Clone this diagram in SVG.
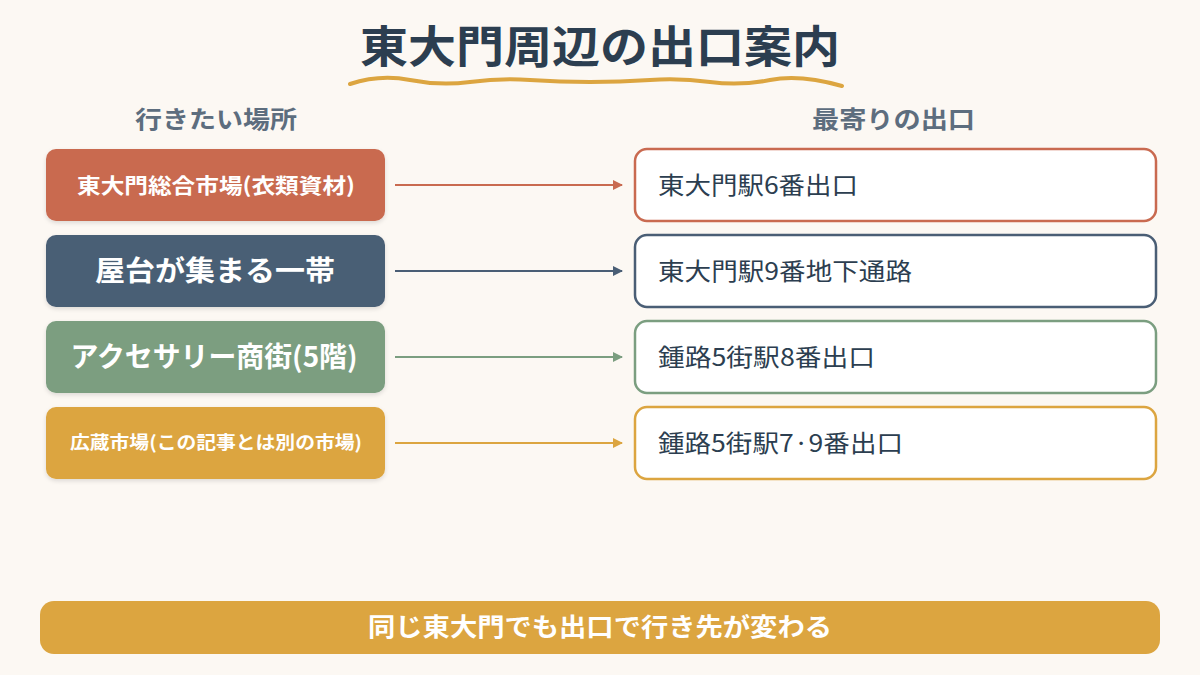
<svg xmlns="http://www.w3.org/2000/svg" width="1200" height="675" viewBox="0 0 1200 675">
<style>
text{font-family:"Noto Sans CJK JP","Noto Sans",sans-serif;}
.lt{fill:#fff;font-weight:bold;text-anchor:middle;}
.rt{fill:#2c3e50;font-size:24px;}
.hd{fill:#5d6d7e;font-size:24px;font-weight:bold;}
.rb{fill:#fff;stroke-width:2.5;}
</style>
<defs>
<filter id="sh" x="-10%" y="-10%" width="120%" height="130%"><feDropShadow dx="0" dy="2" stdDeviation="2" flood-color="#000" flood-opacity="0.12"/></filter>
<marker id="m1" viewBox="0 0 10 10" refX="9" refY="5" markerWidth="5" markerHeight="5" orient="auto"><path d="M0,0L10,5L0,10z" fill="#c96a50"/></marker>
<marker id="m2" viewBox="0 0 10 10" refX="9" refY="5" markerWidth="5" markerHeight="5" orient="auto"><path d="M0,0L10,5L0,10z" fill="#4a5e75"/></marker>
<marker id="m3" viewBox="0 0 10 10" refX="9" refY="5" markerWidth="5" markerHeight="5" orient="auto"><path d="M0,0L10,5L0,10z" fill="#7b9e80"/></marker>
<marker id="m4" viewBox="0 0 10 10" refX="9" refY="5" markerWidth="5" markerHeight="5" orient="auto"><path d="M0,0L10,5L0,10z" fill="#dca540"/></marker>
</defs>
<rect width="1200" height="675" fill="#fcf8f3"/>
<text x="600" y="63" text-anchor="middle" font-size="44" font-weight="bold" fill="#2c3e50" textLength="480" lengthAdjust="spacingAndGlyphs">東大門周辺の出口案内</text>
<path d="M350,84 Q380,74 410,80 T470,82 T530,80 T590,82 T650,80 T710,82 T770,80 T842,86" fill="none" stroke="#dca540" stroke-width="4" stroke-linecap="round"/>
<text class="hd" x="135" y="128" textLength="162" lengthAdjust="spacingAndGlyphs">行きたい場所</text>
<text class="hd" x="812" y="128" textLength="163" lengthAdjust="spacingAndGlyphs">最寄りの出口</text>
<g id="connectors">
<line x1="395" y1="185" x2="622" y2="185" stroke="#c96a50" stroke-width="2" marker-end="url(#m1)"/>
<line x1="395" y1="271" x2="622" y2="271" stroke="#4a5e75" stroke-width="2" marker-end="url(#m2)"/>
<line x1="395" y1="357" x2="622" y2="357" stroke="#7b9e80" stroke-width="2" marker-end="url(#m3)"/>
<line x1="395" y1="443" x2="622" y2="443" stroke="#dca540" stroke-width="2" marker-end="url(#m4)"/>
</g>
<g id="l1"><rect x="46" y="149" width="339" height="72" rx="10" fill="#c96a50" filter="url(#sh)"/><text class="lt" x="216" y="193" font-size="21" textLength="278" lengthAdjust="spacingAndGlyphs">東大門総合市場(衣類資材)</text></g>
<g id="l2"><rect x="46" y="235" width="339" height="72" rx="10" fill="#4a5e75" filter="url(#sh)"/><text class="lt" x="215" y="281" font-size="28" textLength="240" lengthAdjust="spacingAndGlyphs">屋台が集まる一帯</text></g>
<g id="l3"><rect x="46" y="321" width="339" height="72" rx="10" fill="#7b9e80" filter="url(#sh)"/><text class="lt" x="214" y="367" font-size="28" textLength="287" lengthAdjust="spacingAndGlyphs">アクセサリー商街(5階)</text></g>
<g id="l4"><rect x="46" y="407" width="339" height="72" rx="10" fill="#dca540" filter="url(#sh)"/><text class="lt" x="216" y="449" font-size="18" textLength="292" lengthAdjust="spacingAndGlyphs">広蔵市場(この記事とは別の市場)</text></g>
<g id="r1"><rect class="rb" x="635" y="149" width="521" height="72" rx="12" stroke="#c96a50"/><text class="rt" x="658" y="194" textLength="200" lengthAdjust="spacingAndGlyphs">東大門駅6番出口</text></g>
<g id="r2"><rect class="rb" x="635" y="235" width="521" height="72" rx="12" stroke="#4a5e75"/><text class="rt" x="658" y="280" textLength="254" lengthAdjust="spacingAndGlyphs">東大門駅9番地下通路</text></g>
<g id="r3"><rect class="rb" x="635" y="321" width="521" height="72" rx="12" stroke="#7b9e80"/><text class="rt" x="658" y="366" textLength="217" lengthAdjust="spacingAndGlyphs">鍾路5街駅8番出口</text></g>
<g id="r4"><rect class="rb" x="635" y="407" width="521" height="72" rx="12" stroke="#dca540"/><text class="rt" x="658" y="452" textLength="245" lengthAdjust="spacingAndGlyphs">鍾路5街駅7·9番出口</text></g>
<g id="footer"><rect x="40" y="601" width="1120" height="53" rx="14" fill="#dca540"/><text x="600" y="636" text-anchor="middle" fill="#fff" font-size="25" font-weight="bold" textLength="464" lengthAdjust="spacingAndGlyphs">同じ東大門でも出口で行き先が変わる</text></g>
</svg>
